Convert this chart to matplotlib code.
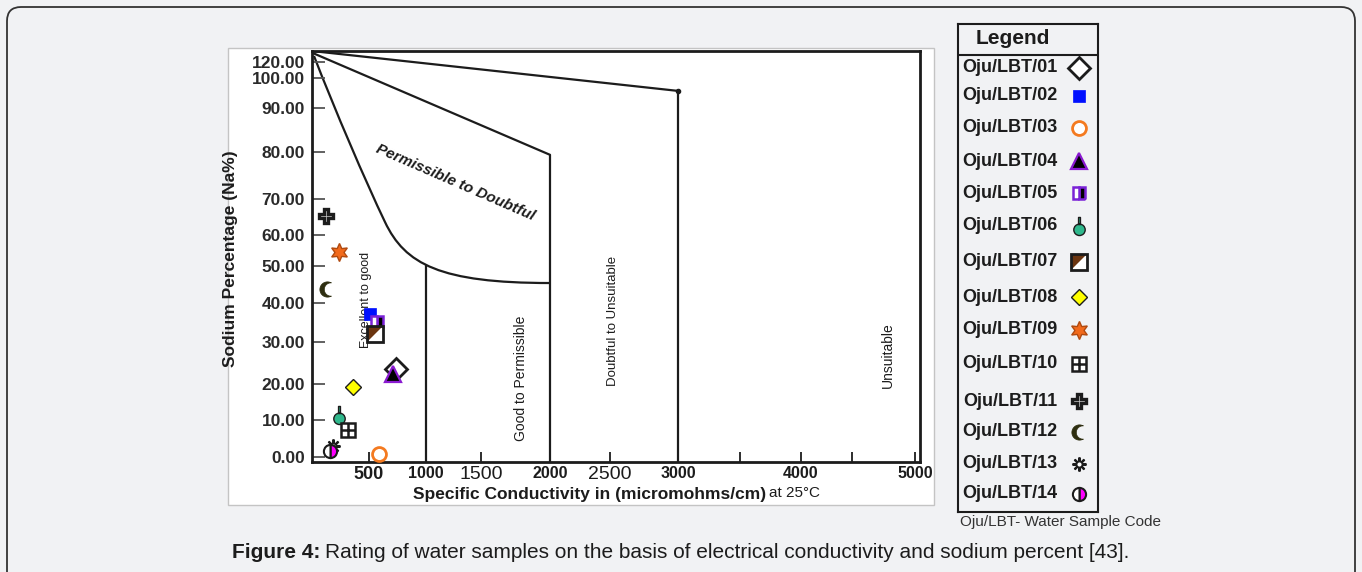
import numpy as np
import matplotlib
matplotlib.use('Agg')
import matplotlib.pyplot as plt
from matplotlib.path import Path
from matplotlib.patches import FancyBboxPatch, Rectangle, PathPatch
from matplotlib.transforms import IdentityTransform

plt.rcParams['font.family'] = ['Liberation Sans', 'DejaVu Sans']

W, H = 1362, 572
BG = '#f1f2f4'
INK = '#1c1c1c'

# sample readings
samples = ['Oju/LBT/01', 'Oju/LBT/02', 'Oju/LBT/03', 'Oju/LBT/04', 'Oju/LBT/05',
           'Oju/LBT/06', 'Oju/LBT/07', 'Oju/LBT/08', 'Oju/LBT/09', 'Oju/LBT/10',
           'Oju/LBT/11', 'Oju/LBT/12', 'Oju/LBT/13', 'Oju/LBT/14']
conductivity = [737, 509, 588, 710, 570, 237, 553, 360, 237, 316, 123, 132, 184, 158]
sodium_pct = [23.6, 37.2, 0.8, 22.4, 35.1, 11.4, 32.1, 19.2, 54.5, 7.3, 65.3, 43.8, 3.0, 1.6]

# axis ticks
x_ticks = [500, 1000, 1500, 2000, 2500, 3000, 4000, 5000]
x_minor = [3500, 4450]
y_ticks = [0, 10, 20, 30, 40, 50, 60, 70, 80, 90, 100, 120]

# class boundaries (Wilcox-type diagram)
top_line_ec = [0, 3000, 3000]
top_line_na = [133, 95.7, -1.4]
mid_line_ec = [0, 2000, 2000]
mid_line_na = [131, 79.4, -1.4]
good_line_ec = [1000, 1000]
good_line_na = [50.0, -1.4]
# excellent/good limit: two cubic bezier pieces (anchor, ctrl, ctrl, anchor, ctrl, ctrl, anchor)
curve_ec = [17.5, 201.8, 464.9, 640.4, 815.8, 1127, 2000]
curve_na = [127.1, 89.5, 74.0, 63.6, 50.6, 45.4, 45.4]

# the diagram's axes are not evenly spaced: knots -> position along the axis
ec_knots = [0, 500, 1000, 1500, 2000, 2500, 3000, 4000, 5000, 5040]
ec_pos = [312, 369, 426, 481, 550, 610, 678, 801, 915, 920]
na_knots = [-1.4, 0, 10, 20, 30, 40, 50, 60, 70, 80, 90, 100, 120, 133]
na_pos = [462, 457, 420, 384, 342, 303, 266, 235, 199, 152, 108, 78, 62, 51]


def ec_fwd(v):
    return np.interp(v, ec_knots, ec_pos)


def ec_inv(p):
    return np.interp(p, ec_pos, ec_knots)


def na_fwd(v):
    return -np.interp(v, na_knots, na_pos)


def na_inv(p):
    return np.interp(-np.asarray(p), na_pos[::-1], na_knots[::-1])


def crescent_path():
    t1 = np.linspace(np.radians(60), np.radians(300), 30)
    outer = np.column_stack([np.cos(t1), np.sin(t1)])
    t2 = np.linspace(np.radians(-86.7), np.radians(-273.3), 30)
    inner = np.column_stack([0.45 + 0.8675 * np.cos(t2), 0.8675 * np.sin(t2)])
    verts = np.vstack([outer, inner, outer[:1]])
    return Path(verts, closed=True)


def bulb_path():
    bulb = Path.circle((0, -0.35), 0.6)
    stem = Path([(-0.1, 0.2), (0.1, 0.2), (0.1, 0.95), (-0.1, 0.95), (-0.1, 0.2)], closed=True)
    return Path.make_compound_path(bulb, stem)


tri_ul = Path([(-1, -1), (-1, 1), (1, 1), (-1, -1)], closed=True)

# marker recipe for each sample: a stack of plot() keyword sets
styles = [
    [dict(marker='D', ms=11, mfc='white', mec=INK, mew=2)],
    [dict(marker='s', ms=8, mfc='#0010ff', mec='#0010ff', mew=0.5)],
    [dict(marker='o', ms=10, mfc='white', mec='#f47a20', mew=2)],
    [dict(marker='^', ms=12, mfc='black', mec='#8a1ad0', mew=1.6)],
    [dict(marker='s', ms=9, fillstyle='right', mfc='black', mfcalt='white', mec='#7a22d6', mew=1.8)],
    [dict(marker=bulb_path(), ms=13, mfc='#2fb88c', mec=INK, mew=1)],
    [dict(marker='s', ms=11, mfc='white', mec=INK, mew=0),
     dict(marker=tri_ul, ms=11, mfc='#6b3510', mec='#6b3510', mew=0),
     dict(marker='s', ms=11, mfc='none', mec=INK, mew=2)],
    [dict(marker='D', ms=8, mfc='#ffff00', mec=INK, mew=1)],
    [dict(marker=(6, 1, 0), ms=13, mfc='#f26a1b', mec='#b04a10', mew=1)],
    [dict(marker='s', ms=10, mfc='white', mec=INK, mew=1.8),
     dict(marker='+', ms=10, mec=INK, mew=1.8)],
    [dict(marker='P', ms=10, mfc='#d8d8d8', mec=INK, mew=2.4)],
    [dict(marker=crescent_path(), ms=11, mfc='#2e2e10', mec='#2e2e10', mew=0.5)],
    [dict(marker=(8, 2, 0), ms=10, mec=INK, mew=1.6),
     dict(marker='o', ms=4, mfc='white', mec=INK, mew=1)],
    [dict(marker='o', ms=9.5, fillstyle='right', mfc='#ff00ff', mfcalt='white', mec=INK, mew=1.5)],
]


def draw_marker(ax, x, y, recipe):
    for kw in recipe:
        kw = dict(kw)
        alt = kw.pop('mfcalt', None)
        if alt is not None:
            kw['markerfacecoloralt'] = alt
        ax.plot([x], [y], linestyle='none', zorder=5, clip_on=False, **kw)


def fx(px):
    return px / W


def fy(py):
    return 1 - py / H


fig = plt.figure(figsize=(W / 100, H / 100), dpi=100, facecolor=BG)

# page frame and white chart panel
fig.patches.append(FancyBboxPatch((7, -30), W - 14, H - 7 + 30,
                                  boxstyle='round,pad=0,rounding_size=14',
                                  transform=IdentityTransform(), facecolor=BG,
                                  edgecolor='#333333', linewidth=1.3, zorder=-10))
fig.patches.append(Rectangle((228, H - 505), 706, 457, transform=IdentityTransform(),
                             facecolor='white', edgecolor='#c4c4c4', linewidth=1, zorder=-5))

ax = fig.add_axes([fx(312), fy(462), fx(920) - fx(312), fy(51) - fy(462)])
ax.set_facecolor('white')
ax.set_xscale('function', functions=(ec_fwd, ec_inv))
ax.set_yscale('function', functions=(na_fwd, na_inv))
ax.set_xlim(0, 5040)
ax.set_ylim(-1.4, 133)

for s in ax.spines.values():
    s.set_linewidth(2)
    s.set_color(INK)

lw = 1.6
ax.plot(top_line_ec, top_line_na, color=INK, lw=lw)
ax.plot([top_line_ec[1]], [top_line_na[1]], 'o', color=INK, ms=3)
ax.plot(mid_line_ec, mid_line_na, color=INK, lw=lw)
ax.plot(good_line_ec, good_line_na, color=INK, lw=lw)
curve = Path(np.column_stack([curve_ec, curve_na]),
             [Path.MOVETO] + [Path.CURVE4] * 6)
ax.add_patch(PathPatch(curve, fill=False, edgecolor=INK, lw=lw))

# class names
ax.text(1264, 73.4, 'Permissible to Doubtful', rotation=-23.5, ha='center', va='center',
        fontsize=11, fontweight='bold', fontstyle='italic', color=INK, rotation_mode='anchor')
narrow = ['Liberation Sans Narrow', 'Liberation Sans', 'DejaVu Sans']
ax.text(474, 40.8, 'Excellent to good', rotation=90, ha='center', va='center',
        fontsize=9, family=narrow, color=INK)
ax.text(1790, 21.4, 'Good to Permissible', rotation=90, ha='center', va='center',
        fontsize=10, family=narrow, color=INK)
ax.text(2522, 35.4, 'Doubtful to Unsuitable', rotation=90, ha='center', va='center',
        fontsize=9.5, family=narrow, color=INK)
ax.text(4763, 26.9, 'Unsuitable', rotation=90, ha='center', va='center',
        fontsize=10, family=narrow, color=INK)

for x, y, recipe in zip(conductivity, sodium_pct, styles):
    draw_marker(ax, x, y, recipe)

# ticks
ax.set_xticks(x_ticks, [str(t) for t in x_ticks])
ax.set_xticks(x_minor, minor=True)
ax.tick_params(axis='x', which='both', direction='in', length=7, width=1.3, color=INK, pad=3)
x_sizes = [13, 11.5, 14, 11.5, 14, 11.5, 11.5, 11.5]
x_weights = ['bold', 'bold', 'normal', 'bold', 'normal', 'bold', 'bold', 'bold']
for lab, sz, wt in zip(ax.get_xticklabels(), x_sizes, x_weights):
    lab.set_fontsize(sz)
    lab.set_fontweight(wt)
    lab.set_color(INK)
ax.set_yticks(y_ticks, ['%.2f' % t for t in y_ticks])
ax.tick_params(axis='y', direction='in', length=9, width=1.3, color='#555555', pad=5,
               labelsize=12.5, labelcolor='#2a2a2a')
for lab in ax.get_yticklabels():
    lab.set_fontweight('bold')

fig.text(fx(230), fy(259), 'Sodium Percentage (Na%)', rotation=90, ha='center', va='center',
         fontsize=12.5, fontweight='bold', color=INK)
fig.text(fx(766), fy(495), 'Specific Conductivity in (micromohms/cm)', ha='right', va='center',
         fontsize=12.5, fontweight='bold', color=INK)
fig.text(fx(769), fy(493), 'at 25°C', ha='left', va='center', fontsize=11, color=INK)

# legend panel
lax = fig.add_axes([fx(958), fy(512), fx(1098) - fx(958), fy(24) - fy(512)])
lax.set_xlim(958, 1098)
lax.set_ylim(512, 24)
lax.patch.set_alpha(0)
lax.set_xticks([])
lax.set_yticks([])
for s in lax.spines.values():
    s.set_linewidth(1.5)
    s.set_color(INK)
lax.axhline(55, color=INK, lw=1.5)
lax.text(1013, 39, 'Legend', ha='center', va='center', fontsize=15, fontweight='bold', color=INK)
item_y = [68, 96, 128, 161, 193, 226, 262, 297, 330, 364, 401, 432, 464, 494]
for name, yy, recipe in zip(samples, item_y, styles):
    lax.text(1010, yy, name, ha='center', va='center', fontsize=13, fontweight='bold', color=INK)
    draw_marker(lax, 1079, yy, recipe)

fig.text(fx(1060), fy(522), 'Oju/LBT- Water Sample Code', ha='center', va='center',
         fontsize=11, color='#333333')

# caption
renderer = fig.canvas.get_renderer()
cap1 = fig.text(fx(232), fy(553), 'Figure 4:', ha='left', va='center', fontsize=15,
                fontweight='bold', color=INK)
bb = cap1.get_window_extent(renderer)
fig.text(bb.x1 / W + 5 / W, fy(553), 'Rating of water samples on the basis of electrical '
         'conductivity and sodium percent [43].', ha='left', va='center', fontsize=15, color=INK)

fig.savefig('out.png', dpi=100, facecolor=BG)
